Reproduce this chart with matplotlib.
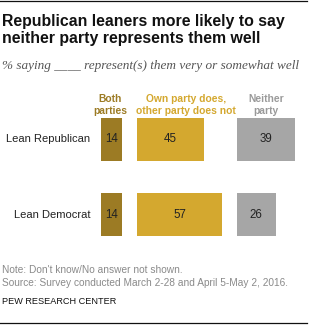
import matplotlib
matplotlib.use("Agg")
import matplotlib.pyplot as plt

categories = ["Lean Republican", "Lean Democrat"]
series_names = ["Both\nparties", "Own party does,\nother party does not", "Neither\nparty"]
both = [14, 14]
own = [45, 57]
neither = [39, 26]

colors = ["#9C7B24", "#D4A82F", "#A6A6A6"]
header_colors = ["#9C7B24", "#D4A82F", "#9A9A9A"]

W, H = 309, 325
fig = plt.figure(figsize=(W / 100, H / 100), dpi=100)
ax = fig.add_axes([0, 0, 1, 1])
ax.set_xlim(0, W)
ax.set_ylim(H, 0)
ax.axis("off")

scale = 1.49  # px per percentage point
starts = [101, 137, 237]
row_y = [139.5, 214.5]
bar_h = 43

for si, vals in enumerate([both, own, neither]):
    widths = [v * scale for v in vals]
    ax.barh(row_y, widths, height=bar_h, left=starts[si], color=colors[si], linewidth=0)
    for y, v, w in zip(row_y, vals, widths):
        ax.text(starts[si] + w / 2, y, str(v), ha="center", va="center",
                fontsize=8.3, color="#222222", family="Liberation Sans")

for y, c in zip(row_y, categories):
    ax.text(90, y, c, ha="right", va="center", fontsize=8.0, color="#222222",
            family="Liberation Sans")

header_x = [110.5, 186, 266]
for x, name, hc in zip(header_x, series_names, header_colors):
    ax.text(x, 115.5, name, ha="center", va="bottom", fontsize=7.4, color=hc,
            fontweight="bold", family="Liberation Sans", linespacing=1.15)

# title etc
ax.plot([0, 307], [1, 1], color="#111111", lw=0.9)
ax.text(2, 14, "Republican leaners more likely to say\nneither party represents them well",
        ha="left", va="top", fontsize=11.4, fontweight="bold", color="#111111",
        family="Liberation Sans", linespacing=1.2)
ax.text(2, 66, "% saying ____ represent(s) them very or somewhat well",
        ha="left", va="center", fontsize=9.55, style="italic", color="#555555",
        family="Liberation Serif")
ax.text(2, 270, "Note: Don't know/No answer not shown.",
        ha="left", va="center", fontsize=7.3, color="#8a8a8a", family="Liberation Sans")
ax.text(2, 283, "Source: Survey conducted March 2-28 and April 5-May 2, 2016.",
        ha="left", va="center", fontsize=7.3, color="#8a8a8a", family="Liberation Sans")
ax.text(2, 302, "PEW RESEARCH CENTER",
        ha="left", va="center", fontsize=6.6, color="#111111", family="Liberation Sans")
ax.plot([0, 307], [323, 323], color="#111111", lw=0.9)

fig.savefig("out.png", dpi=100)
